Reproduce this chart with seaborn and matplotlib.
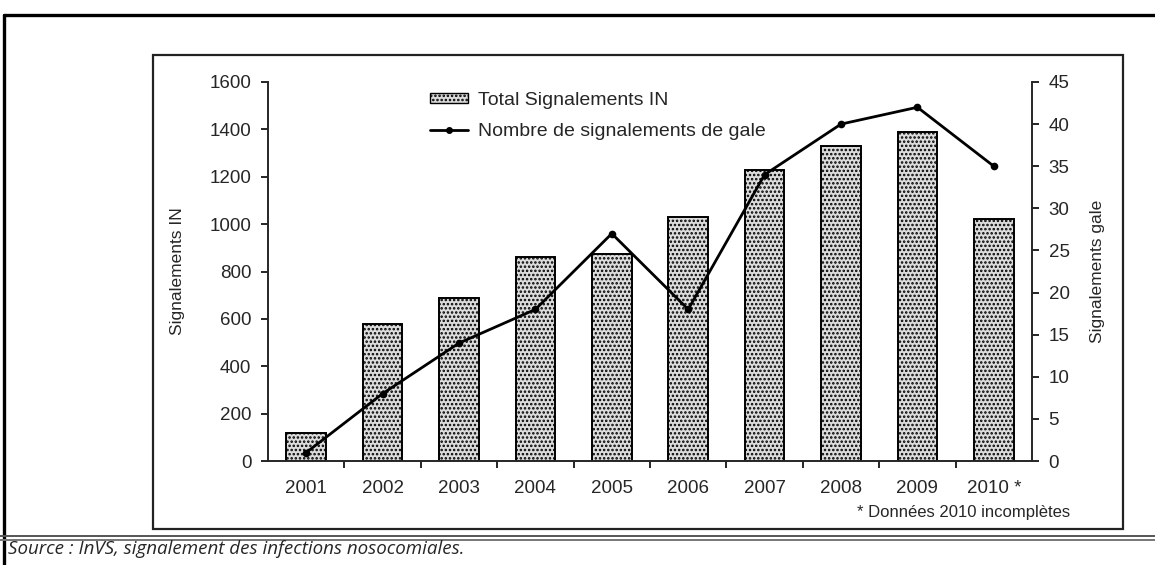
import matplotlib.pyplot as plt
import seaborn as sns
from matplotlib.lines import Line2D
from matplotlib.patches import Rectangle, Patch

years = ["2001", "2002", "2003", "2004", "2005", "2006", "2007", "2008", "2009", "2010 *"]
total_in = [120, 580, 690, 860, 875, 1030, 1230, 1330, 1390, 1020]
gale = [1, 8, 14, 18, 27, 18, 34, 40, 42, 35]

sns.set_style("ticks")
plt.rcParams['font.family'] = ['Liberation Sans', 'DejaVu Sans']
plt.rcParams['hatch.linewidth'] = 1.2

fig = plt.figure(figsize=(11.55, 5.65), dpi=100)
ax1 = fig.add_axes([268 / 1155, 1 - 461 / 565, 764 / 1155, 379 / 565])

sns.barplot(x=years, y=total_in, color="#dcdcdc", edgecolor="black",
            linewidth=1.4, width=0.52, saturation=1, ax=ax1)
for bar in ax1.patches:
    bar.set_hatch("....")

ax2 = ax1.twinx()
sns.pointplot(x=years, y=gale, color="black", markers="o", markersize=4,
              linewidth=2.0, ax=ax2)

ax1.set_xlim(-0.5, 9.5)
ax1.set_ylim(0, 1600)
ax2.set_ylim(0, 45)
ax1.set_yticks(range(0, 1601, 200))
ax2.set_yticks(range(0, 46, 5))

for a in (ax1, ax2):
    a.spines['top'].set_visible(False)
    for s in a.spines.values():
        s.set_linewidth(1.4)
ax1.spines['right'].set_visible(False)
ax2.spines['left'].set_visible(False)
ax2.spines['bottom'].set_visible(False)

ax1.set_xticks(range(10))
ax1.set_xticklabels(years)
ax1.set_xticks([i + 0.5 for i in range(9)], minor=True)
ax1.tick_params(axis='x', which='major', length=0, pad=14, labelsize=13.5)
ax1.tick_params(axis='x', which='minor', length=5, width=1.4, direction='out')
ax1.tick_params(axis='y', length=5, width=1.4, pad=7, labelsize=13.5)
ax2.tick_params(axis='y', length=5, width=1.4, pad=7, labelsize=13.5)

ax1.set_xlabel("")
ax1.set_ylabel("Signalements IN", fontsize=12.5)
ax2.set_ylabel("Signalements gale", fontsize=12.5, rotation=90)
ax1.yaxis.set_label_coords(-0.109, 0.5)
ax2.yaxis.set_label_coords(1.076, 0.5)

handles = [Patch(facecolor="#dcdcdc", edgecolor="black", hatch="....", linewidth=1.0),
           Line2D([], [], color="black", lw=2.0, marker="o", markersize=4)]
fig.legend(handles, ["Total Signalements IN", "Nombre de signalements de gale"],
           loc="upper left", bbox_to_anchor=(430 / 1155, 1 - 92 / 565),
           frameon=False, fontsize=14, borderpad=0, borderaxespad=0,
           handlelength=1.95, handleheight=0.4, handletextpad=0.5,
           labelspacing=0.72, numpoints=1)

fig.text(1070 / 1155, 1 - 513 / 565, "* Données 2010 incomplètes",
         ha="right", va="center", fontsize=12)

# frames
fig.add_artist(Rectangle((153 / 1155, 1 - 529 / 565), 970 / 1155, 474 / 565,
                         transform=fig.transFigure, fill=False,
                         edgecolor="#222222", linewidth=1.6))
fig.add_artist(Line2D([4 / 1155, 1], [1 - 15 / 565] * 2, transform=fig.transFigure,
                      color="black", linewidth=2.4))
fig.add_artist(Line2D([4 / 1155] * 2, [0, 1 - 15 / 565], transform=fig.transFigure,
                      color="black", linewidth=2.4))
fig.add_artist(Line2D([0, 1], [1 - 536 / 565] * 2, transform=fig.transFigure,
                      color="#555555", linewidth=1.4))
fig.add_artist(Line2D([0, 1], [1 - 540 / 565] * 2, transform=fig.transFigure,
                      color="#777777", linewidth=1.4))

fig.text(8 / 1155, 1 - 549 / 565,
         "Source : InVS, signalement des infections nosocomiales.",
         ha="left", va="center", fontsize=13.5, style="italic",
         family=["Open Sans", "DejaVu Sans"])

fig.savefig("out.png", dpi=100)
